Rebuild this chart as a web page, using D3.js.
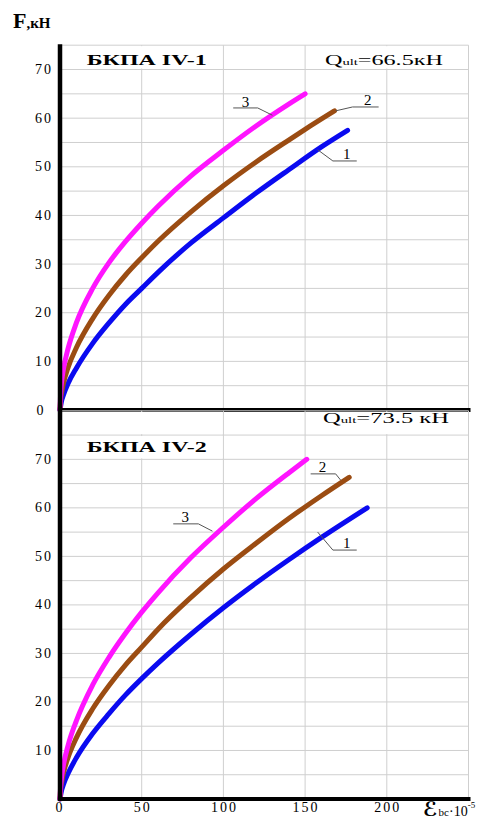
<!DOCTYPE html>
<html>
<head>
<meta charset="utf-8">
<script src="https://cdn.jsdelivr.net/npm/d3@7"></script>
<style>
  body { margin: 0; background: #fff; }
  svg { display: block; font-family: "Liberation Serif", "Times New Roman", serif; }
</style>
</head>
<body>
<div id="chart"></div>
<script>
// strain (eps_bc * 1e-5) vs load F, kN
var xTicks = [0, 50, 100, 150, 200];
var yTicksTop = [0, 10, 20, 30, 40, 50, 60, 70];
var yTicksBottom = [10, 20, 30, 40, 50, 60, 70];

// panel IV-1
var top3 = [[0,0],[0.5,4.2],[1,5.9],[2,8.2],[5,12.7],[10,17.9],[20,25],[30,30.3],[40,34.6],[50,38.4],[60,41.9],[80,48.1],[100,53.4],[120,58.4],[140,62.9],[150,65]];
var top2 = [[0,0],[0.5,2.5],[1,3.6],[2,5.3],[5,8.8],[10,12.8],[20,18.8],[30,23.6],[40,27.7],[50,31.3],[60,34.7],[80,40.7],[100,46.1],[120,51],[140,55.5],[150,57.7],[168,61.5]];
var top1 = [[0,0],[1,1.9],[2,3],[5,5.5],[10,8.6],[20,13.7],[30,17.9],[40,21.7],[50,25],[60,28.3],[80,34.3],[100,39.5],[120,44.6],[140,49.4],[160,54.1],[176,57.5]];

// panel IV-2
var bot3 = [[0,0],[0.5,3.2],[1,4.6],[2,6.8],[5,11.1],[10,16.1],[20,23.5],[30,29.2],[40,34.1],[50,38.5],[60,42.5],[80,49.7],[100,56],[120,61.9],[140,67.2],[151,70]];
var bot2 = [[0,0],[0.5,2.4],[1,3.5],[2,5.2],[5,8.6],[10,12.6],[20,18.6],[30,23.4],[40,27.6],[50,31.3],[60,35],[80,41.5],[100,47.4],[120,52.7],[140,57.8],[160,62.5],[177,66.3]];
var bot1 = [[0,0],[1,1.8],[2,2.9],[5,5.3],[10,8.5],[20,13.5],[30,17.6],[40,21.4],[50,24.8],[60,28],[80,33.9],[100,39.4],[120,44.5],[140,49.3],[160,53.9],[188,60]];

// curve number labels: text pos, underline, leader tip (data units)
var topNotes = [
  {t: '3', x: 113.5, y: 62.3, u1: 106, u2: 121, uy: 62.1, end: 'r', tx: 130, ty: 60.6},
  {t: '2', x: 188.3, y: 62.7, u1: 179, u2: 195, uy: 62.3, end: 'l', tx: 168.7, ty: 61.5},
  {t: '1', x: 175.5, y: 51.6, u1: 167, u2: 181.6, uy: 51.2, end: 'l', tx: 157.7, ty: 53.5}
];
var botNotes = [
  {t: '3', x: 76.7, y: 57.1, u1: 69.3, u2: 84.7, uy: 56.7, end: 'r', tx: 93.3, ty: 55.2},
  {t: '2', x: 160.7, y: 67.4, u1: 153.4, u2: 168.7, uy: 67.0, end: 'r', tx: 171.8, ty: 65.7},
  {t: '1', x: 175.5, y: 51.7, u1: 167, u2: 181.6, uy: 51.3, end: 'l', tx: 157.7, ty: 55.0}
];

var colors = ['#0a0af0', '#9b4c12', '#ff14ff'];

var width = 502, height = 821;
var svg = d3.select('#chart').append('svg')
    .attr('width', width)
    .attr('height', height);

var x = d3.scaleLinear().domain([0, 250]).range([60, 468.5]);

var panels = [
  {name: 'БКПА IV-1', q: '=66.5кН', yMax: 75, y: d3.scaleLinear().domain([0, 75]).range([410, 45.2]),
   series: [top1, top2, top3], notes: topNotes, ticks: yTicksTop, nameY: 70.9, qY: 71, qLen: 118, qX: 325},
  {name: 'БКПА IV-2', q: '=73.5 кН', yMax: 80, y: d3.scaleLinear().domain([0, 80]).range([799, 410.8]),
   series: [bot1, bot2, bot3], notes: botNotes, ticks: yTicksBottom, nameY: 71.5, qY: 77.5, qLen: 126, qX: 323}
];

var line = d3.line()
    .x(function(d) { return x(d[0]); })
    .curve(d3.curveMonotoneX);

panels.forEach(function(p, pi) {
  var g = svg.append('g');
  var y = p.y;

  // horizontal grid every 5 kN
  var hs = d3.range(5, p.yMax + 1, 5);
  g.selectAll('.hgrid').data(hs).enter().append('line')
      .attr('x1', x(0)).attr('x2', x(250))
      .attr('y1', function(d) { return y(d); })
      .attr('y2', function(d) { return y(d); })
      .attr('stroke', '#cfcfcf').attr('stroke-width', 1);
  g.selectAll('.vgrid').data([50, 100, 150, 200, 250]).enter().append('line')
      .attr('x1', function(d) { return x(d); })
      .attr('x2', function(d) { return x(d); })
      .attr('y1', y(0)).attr('y2', y(p.yMax))
      .attr('stroke', '#cfcfcf').attr('stroke-width', 1);

  // white boxes behind the headers (hide the vertical grid there)
  var boxes = pi === 0
    ? [[0, 100, 70.2, 74.8], [150, 250, 70.2, 74.8]]
    : [[0, 100, 70.2, 74.8], [0, 100, 75.2, 79.8], [150, 250, 75.2, 79.8]];
  g.selectAll('.box').data(boxes).enter().append('rect')
      .attr('x', function(d) { return x(d[0]) + 1; })
      .attr('width', function(d) { return x(d[1]) - x(d[0]) - 2; })
      .attr('y', function(d) { return y(d[3]); })
      .attr('height', function(d) { return y(d[2]) - y(d[3]); })
      .attr('fill', '#fff');

  g.append('text')
      .attr('x', 86.7).attr('y', y(p.nameY))
      .attr('textLength', 120).attr('lengthAdjust', 'spacingAndGlyphs')
      .attr('font-size', 15).attr('font-weight', 'bold')
      .text(p.name);

  var q = g.append('text')
      .attr('x', p.qX).attr('y', y(p.qY))
      .attr('textLength', p.qLen).attr('lengthAdjust', 'spacingAndGlyphs')
      .attr('font-size', 15);
  q.append('tspan').text('Q');
  q.append('tspan').attr('font-size', 9).text('ult');
  q.append('tspan').text(p.q);

  // y tick labels
  g.selectAll('.ytick').data(p.ticks).enter().append('text')
      .attr('x', function(d) { return d === 0 ? 41 : 53; })
      .attr('y', function(d) { return y(d) + 4.5; })
      .attr('text-anchor', function(d) { return d === 0 ? 'middle' : 'end'; })
      .attr('font-size', 14).attr('letter-spacing', 2)
      .text(function(d) { return d; });

  // curves
  g.selectAll('.curve').data(p.series).enter().append('path')
      .attr('d', function(d) { return line.y(function(v) { return y(v[1]); })(d); })
      .attr('fill', 'none')
      .attr('stroke', function(d, i) { return colors[i]; })
      .attr('stroke-width', 5)
      .attr('stroke-linecap', 'round')
      .attr('stroke-linejoin', 'round');

  // numbered leaders
  var n = g.selectAll('.note').data(p.notes).enter().append('g');
  n.append('polyline')
      .attr('points', function(d) {
        var sx = d.end === 'r' ? d.u2 : d.u1, ox = d.end === 'r' ? d.u1 : d.u2;
        return [[x(ox), y(d.uy)], [x(sx), y(d.uy)], [x(d.tx), y(d.ty)]].join(' ');
      })
      .attr('fill', 'none').attr('stroke', '#555').attr('stroke-width', 1);
  n.append('text')
      .attr('x', function(d) { return x(d.x); })
      .attr('y', function(d) { return y(d.y); })
      .attr('text-anchor', 'middle').attr('font-size', 15)
      .text(function(d) { return d.t; });

  // black x axis line of the panel
  g.append('line')
      .attr('x1', x(0) - 2).attr('x2', x(250) + 2)
      .attr('y1', y(0)).attr('y2', y(0))
      .attr('stroke', '#000').attr('stroke-width', 4);
});

// y axis
svg.append('line')
    .attr('x1', x(0)).attr('x2', x(0))
    .attr('y1', panels[0].y(75) - 1).attr('y2', panels[1].y(0) + 2)
    .attr('stroke', '#000').attr('stroke-width', 4.5);

// x tick labels
svg.selectAll('.xtick').data(xTicks).enter().append('text')
    .attr('x', function(d) { return x(d) + (d === 0 ? 0 : 1); })
    .attr('y', 812)
    .attr('text-anchor', 'middle')
    .attr('font-size', 14).attr('letter-spacing', 2)
    .text(function(d) { return d; });

// axis titles
var ft = svg.append('text').attr('x', 13).attr('y', 28).attr('font-weight', 'bold');
ft.append('tspan').attr('font-size', 22).text('F');
ft.append('tspan').attr('font-size', 15).text(',кН');

var xt = svg.append('text').attr('x', 423).attr('y', 816);
xt.append('tspan').attr('font-size', 20).attr('font-style', 'italic').attr('font-weight', 'bold')
    .attr('font-family', '"DejaVu Sans", sans-serif').text('ℰ');
xt.append('tspan').attr('font-size', 11).attr('dx', 1).text('bc');
xt.append('tspan').attr('font-size', 14).text('·10');
xt.append('tspan').attr('font-size', 9).attr('dy', -8).text('-5');
</script>
</body>
</html>
